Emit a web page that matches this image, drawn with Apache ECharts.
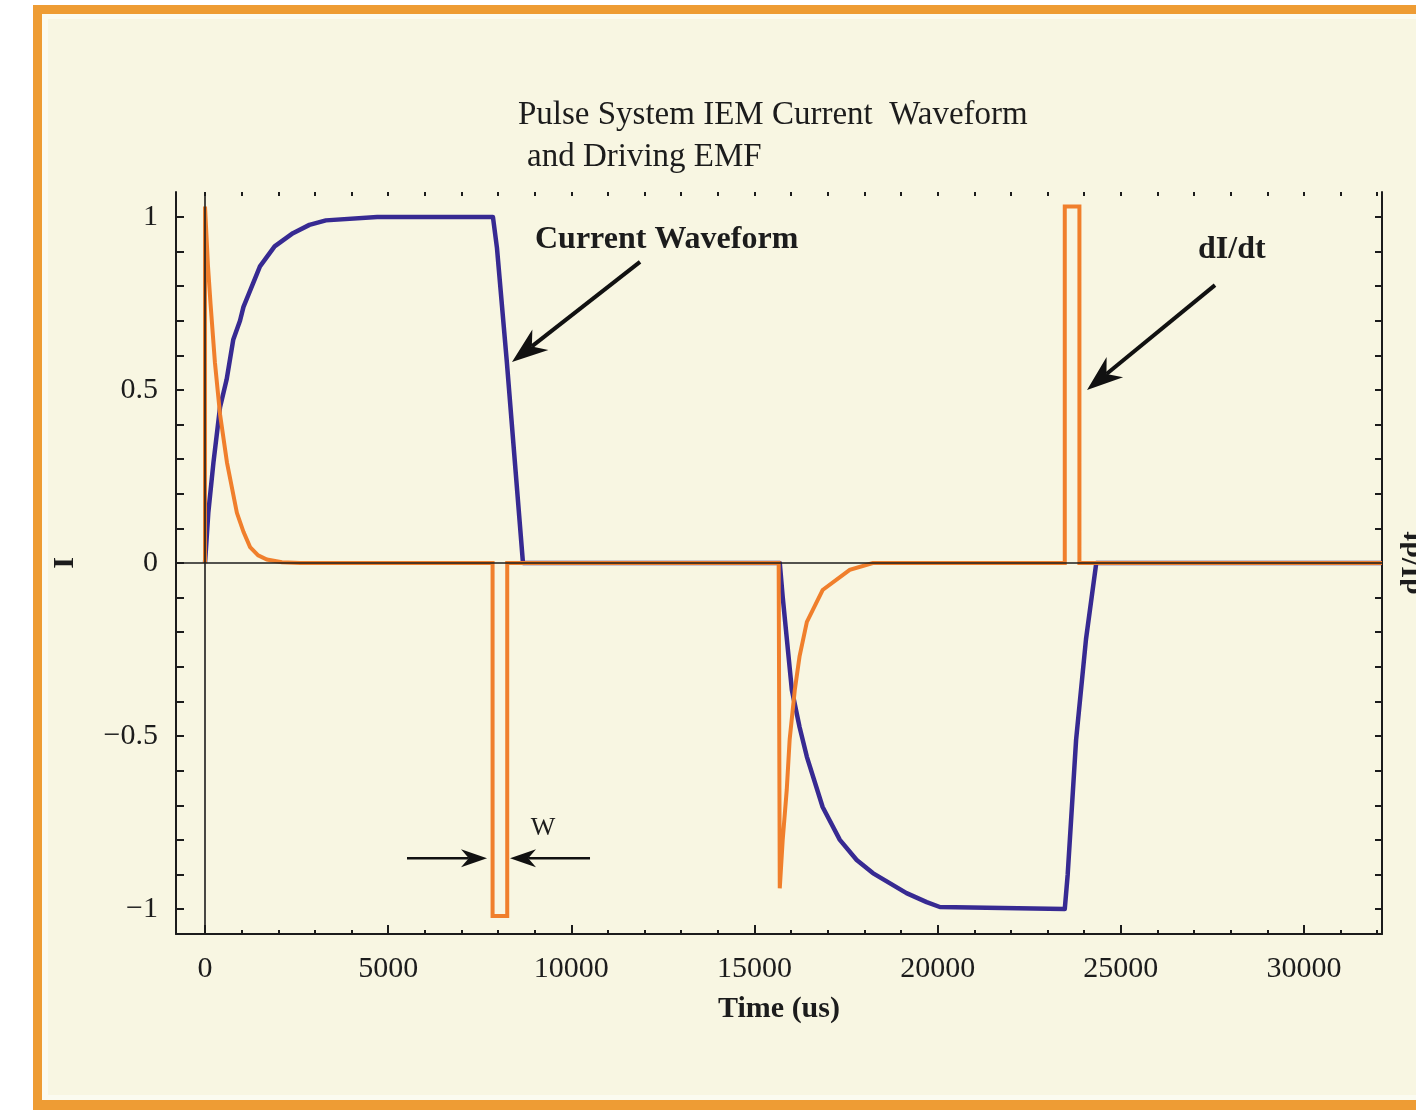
<!DOCTYPE html>
<html>
<head>
<meta charset="utf-8">
<script src="https://cdn.jsdelivr.net/npm/echarts@6/dist/echarts.min.js"></script>
<style>
html,body{margin:0;padding:0;background:#ffffff;}
#c{width:1416px;height:1111px;}
</style>
</head>
<body>
<div id="c"></div>
<script>
// ---------- data ----------
const blueTime = [0, 90, 230, 410, 590, 770, 955, 1050, 1320, 1500,
  1900, 2400, 2850, 3300, 4700, 7860, 7970, 8240, 8680, 15690,
  15770, 16020, 16230, 16430, 16860, 17330, 17790, 18230, 19150, 19700,
  20060, 23470, 23550, 23780, 24050, 24330, 32130];
const blueCurrent = [0, 0.145, 0.29, 0.45, 0.53, 0.645, 0.70, 0.74, 0.81, 0.857,
  0.915, 0.953, 0.977, 0.99, 1.0, 1.0, 0.91, 0.58, 0, 0,
  -0.098, -0.367, -0.474, -0.56, -0.705, -0.80, -0.858, -0.896, -0.954, -0.98,
  -0.994, -1.0, -0.9, -0.51, -0.22, 0, 0];

const orangeTime = [0, 0, 80, 150, 270, 410, 600, 870, 1050, 1230,
  1450, 1690, 2100, 2600, 7850, 7850, 8250, 8250, 15660, 15690,
  15770, 15880, 15960, 16100, 16230, 16430, 16860, 17600, 18230, 23470,
  23470, 23870, 23870, 32130];
const orangeEMF = [0, 1.03, 0.86, 0.75, 0.58, 0.43, 0.29, 0.145, 0.09, 0.046,
  0.022, 0.01, 0.002, 0, 0, -1.02, -1.02, 0, 0, -0.94,
  -0.80, -0.656, -0.51, -0.367, -0.27, -0.17, -0.078, -0.02, 0, 0,
  1.03, 1.03, 0, 0];

const xTickLabels = [0, 5000, 10000, 15000, 20000, 25000, 30000];
const xMinorTicks = [0, 1000, 2000, 3000, 4000, 5000, 6000, 7000, 8000, 9000, 10000,
  11000, 12000, 13000, 14000, 15000, 16000, 17000, 18000, 19000, 20000,
  21000, 22000, 23000, 24000, 25000, 26000, 27000, 28000, 29000, 30000, 31000, 32000];
const yTickLabels = [-1, -0.5, 0, 0.5, 1];
const yMinorTicks = [-1, -0.9, -0.8, -0.7, -0.6, -0.5, -0.4, -0.3, -0.2, -0.1, 0,
  0.1, 0.2, 0.3, 0.4, 0.5, 0.6, 0.7, 0.8, 0.9, 1];

const titleLine1 = 'Pulse System IEM Current  Waveform';
const titleLine2 = 'and Driving EMF';

// ---------- chart ----------
const FONT = "'Liberation Serif', 'DejaVu Serif', serif";
const INK = '#1c1c1c';
const X_MIN = -792, X_MAX = 32130, Y_MIN = -1.072, Y_MAX = 1.072;

const chart = echarts.init(document.getElementById('c'), null, {renderer: 'canvas'});

const baseX = {type: 'value', min: X_MIN, max: X_MAX, splitLine: {show: false}};
const baseY = {type: 'value', min: Y_MIN, max: Y_MAX, splitLine: {show: false}};
const fmtY = v => (v < 0 ? '\u2212' : '') + String(Math.abs(v));
const fmtX = v => String(v);

const option = {
  animation: false,
  backgroundColor: 'transparent',
  title: [
    {text: titleLine1, left: 518, top: 98, padding: 0,
     textStyle: {fontFamily: FONT, fontSize: 33, fontWeight: 'normal', color: INK, lineHeight: 34}},
    {text: titleLine2, left: 527, top: 140, padding: 0,
     textStyle: {fontFamily: FONT, fontSize: 33, fontWeight: 'normal', color: INK, lineHeight: 34}}
  ],
  grid: {left: 176, top: 192, right: 34, bottom: 177, containLabel: false, outerBoundsMode: 'none'},
  xAxis: [
    Object.assign({}, baseX, {
      position: 'bottom',
      axisLine: {show: true, onZero: false, lineStyle: {color: INK, width: 2}},
      axisTick: {show: true, inside: true, length: 9, customValues: xTickLabels, lineStyle: {color: INK, width: 2}},
      axisLabel: {show: true, customValues: xTickLabels, formatter: fmtX, fontFamily: FONT, fontSize: 30, color: INK, margin: 20},
      name: 'Time (us)', nameLocation: 'middle', nameGap: 60,
      nameTextStyle: {fontFamily: FONT, fontSize: 30, fontWeight: 'bold', color: INK}
    }),
    Object.assign({}, baseX, {
      position: 'bottom',
      axisLine: {show: false, onZero: false},
      axisTick: {show: true, inside: true, length: 4, customValues: xMinorTicks, lineStyle: {color: INK, width: 2}},
      axisLabel: {show: false}
    }),
    Object.assign({}, baseX, {
      position: 'top',
      axisLine: {show: false, onZero: false},
      axisTick: {show: true, inside: true, length: 4, customValues: xMinorTicks, lineStyle: {color: INK, width: 2}},
      axisLabel: {show: false}
    })
  ],
  yAxis: [
    Object.assign({}, baseY, {
      position: 'left',
      axisLine: {show: true, onZero: false, lineStyle: {color: INK, width: 2}},
      axisTick: {show: true, inside: true, length: 8, customValues: yMinorTicks, lineStyle: {color: INK, width: 2}},
      axisLabel: {show: true, customValues: yTickLabels, formatter: fmtY, fontFamily: FONT, fontSize: 30, color: INK, margin: 18},
      name: 'I', nameLocation: 'middle', nameGap: 96, nameRotate: 90,
      nameTextStyle: {fontFamily: FONT, fontSize: 30, fontWeight: 'bold', color: INK}
    }),
    Object.assign({}, baseY, {
      position: 'right',
      axisLine: {show: true, onZero: false, lineStyle: {color: INK, width: 2}},
      axisTick: {show: true, inside: true, length: 7, customValues: yMinorTicks, lineStyle: {color: INK, width: 2}},
      axisLabel: {show: false},
      name: 'dI/dt', nameLocation: 'middle', nameGap: 16, nameRotate: 90,
      nameTextStyle: {fontFamily: FONT, fontSize: 30, fontWeight: 'bold', color: INK}
    })
  ],
  series: [
    {
      name: 'Current Waveform', type: 'line', xAxisIndex: 0, yAxisIndex: 0,
      data: blueTime.map((t, i) => [t, blueCurrent[i]]),
      symbol: 'none', showSymbol: false, smooth: false, z: 3,
      lineStyle: {color: '#372a92', width: 4.5, join: 'round'},
      markLine: {
        silent: true, symbol: 'none', animation: false,
        label: {show: false},
        lineStyle: {color: INK, width: 1.6, type: 'solid'},
        data: [{xAxis: 0}, {yAxis: 0}]
      }
    },
    {
      name: 'dI/dt', type: 'line', xAxisIndex: 0, yAxisIndex: 0,
      data: orangeTime.map((t, i) => [t, orangeEMF[i]]),
      symbol: 'none', showSymbol: false, smooth: false, z: 4,
      lineStyle: {color: '#f07f2c', width: 4, join: 'miter'}
    }
  ]
};
chart.setOption(option);

// ---------- annotations placed in data coordinates ----------
const px = (t, v) => chart.convertToPixel({xAxisIndex: 0, yAxisIndex: 0}, [t, v]);

function arrow(from, to, lw, headLen, headW) {
  const dx = to[0] - from[0], dy = to[1] - from[1];
  const L = Math.hypot(dx, dy), ux = dx / L, uy = dy / L;
  const nx = -uy, ny = ux;
  const back = [to[0] - ux * headLen, to[1] - uy * headLen];
  const notch = [to[0] - ux * headLen * 0.7, to[1] - uy * headLen * 0.7];
  return [
    {type: 'line', z: 50, shape: {x1: from[0], y1: from[1], x2: notch[0], y2: notch[1]},
     style: {stroke: '#111', lineWidth: lw}},
    {type: 'polygon', z: 51, shape: {points: [
      to,
      [back[0] + nx * headW / 2, back[1] + ny * headW / 2],
      notch,
      [back[0] - nx * headW / 2, back[1] - ny * headW / 2]
    ]}, style: {fill: '#111'}}
  ];
}
function label(txt, at, size, weight, align) {
  return {type: 'text', z: 52, x: at[0], y: at[1],
    style: {text: txt, font: weight + ' ' + size + 'px ' + FONT, fill: INK,
      align: align, verticalAlign: 'middle', textAlign: align, textVerticalAlign: 'middle'}};
}

const W = 1416;
const elems = [
  // framed picture background
  {type: 'rect', z: -20, shape: {x: 33, y: 5, width: W, height: 1105}, style: {fill: '#ee9c34'}},
  {type: 'rect', z: -19, shape: {x: 42, y: 14, width: W, height: 1086}, style: {fill: '#fbfbf0'}},
  {type: 'rect', z: -18, shape: {x: 48, y: 19, width: W, height: 1076}, style: {fill: '#f8f6e2'}}
];
elems.push(...arrow(px(11875, 0.870), px(8380, 0.581), 4, 36, 26));
elems.push(...arrow(px(27571, 0.803), px(24077, 0.500), 4, 36, 26));
elems.push(...arrow(px(5514, -0.853), px(7698, -0.853), 2.5, 26, 18));
elems.push(...arrow(px(10510, -0.853), px(8326, -0.853), 2.5, 26, 18));
elems.push(label('Current Waveform', px(9008, 0.934), 32, 'bold', 'left'));
elems.push(label('dI/dt', px(27107, 0.905), 32, 'bold', 'left'));
elems.push(label('W', px(9227, -0.766), 26, 'normal', 'center'));

chart.setOption({graphic: {elements: elems}});
</script>
</body>
</html>
